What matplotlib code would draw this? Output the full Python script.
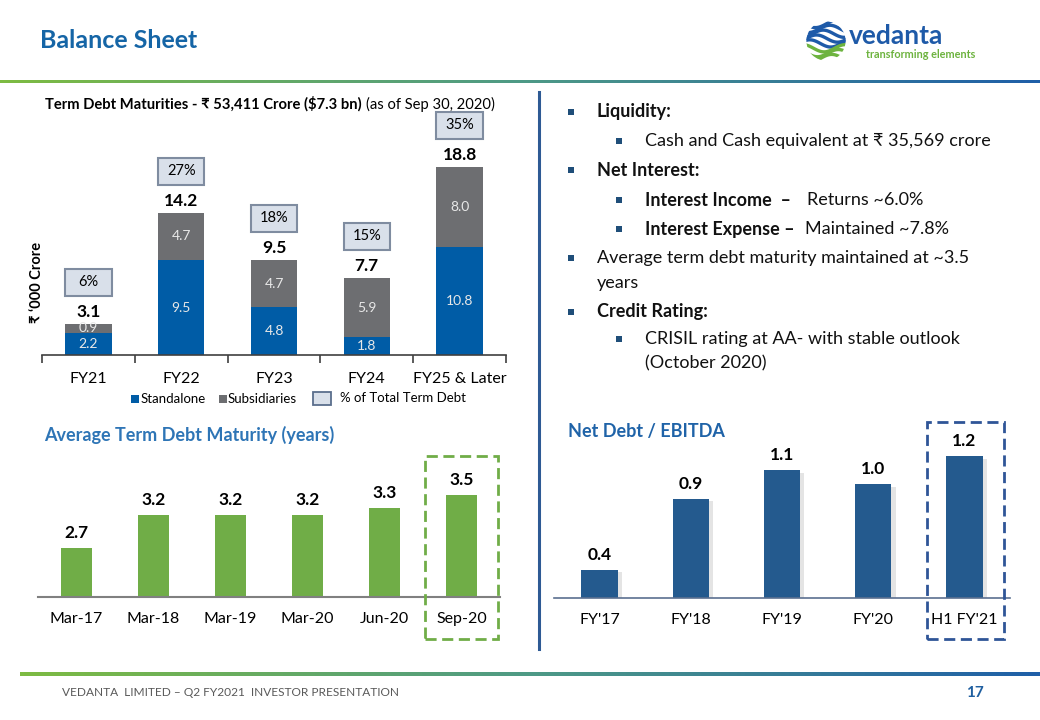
import numpy as np
import matplotlib
matplotlib.use("Agg")
import matplotlib.pyplot as plt
import matplotlib.patheffects as pe
from matplotlib.patches import Rectangle, Circle
from matplotlib.colors import LinearSegmentedColormap
from matplotlib.transforms import blended_transform_factory

plt.rcParams["font.family"] = ["Lato", "DejaVu Sans"]

W, H = 1040, 720

# ---------------------------
# Data
# ---------------------------
maturity_years = ["FY21", "FY22", "FY23", "FY24", "FY25 & Later"]
standalone = [2.2, 9.5, 4.8, 1.8, 10.8]
subsidiaries = [0.9, 4.7, 4.7, 5.9, 8.0]
pct_of_total = ["6%", "27%", "18%", "15%", "35%"]

avg_dates = ["Mar-17", "Mar-18", "Mar-19", "Mar-20", "Jun-20", "Sep-20"]
avg_maturity = [2.7, 3.2, 3.2, 3.2, 3.3, 3.5]

nd_periods = ["FY'17", "FY'18", "FY'19", "FY'20", "H1 FY'21"]
nd_ebitda = [0.4, 0.9, 1.1, 1.0, 1.2]

BLUE = "#005CA6"
GREY = "#6D6E71"
GREEN = "#70AD47"
NAVY = "#245A8E"


def px_box(x0, y0, x1, y1):
    return [x0 / W, 1 - y1 / H, (x1 - x0) / W, (y1 - y0) / H]


def fx(x):
    return x / W


def fy(y):
    return 1 - y / H


fig = plt.figure(figsize=(W / 100, H / 100), dpi=100)
renderer = fig.canvas.get_renderer()


def right_px(t):
    # right edge of a figure text, in pixels
    return t.get_window_extent(renderer).x1


# ---------------------------
# Header / footer
# ---------------------------
fig.text(fx(40), fy(40), "Balance Sheet", color="#1565A6", fontsize=18,
         fontweight="bold", va="center")

grad = LinearSegmentedColormap.from_list("vg", ["#7DBB42", "#4E9A86", "#1F5FA8"])
for box in [px_box(0, 80, W, 83), px_box(20, 672, W, 676)]:
    gax = fig.add_axes(box)
    gax.imshow(np.linspace(0, 1, 256)[None, :], aspect="auto", cmap=grad)
    gax.axis("off")

fig.text(fx(62), fy(693), "VEDANTA  LIMITED \u2013 Q2 FY2021  INVESTOR PRESENTATION",
         color="#595959", fontsize=8.6, va="center",
         family=["Liberation Sans Narrow", "Lato", "DejaVu Sans"])
fig.text(fx(966), fy(693), "17", color="#1F5FA0", fontsize=11, fontweight="bold",
         va="center")

# logo
lax = fig.add_axes(px_box(806, 21, 846, 61))
lax.set_xlim(-1, 1)
lax.set_ylim(-1, 1)
lax.set_aspect("equal")
lax.axis("off")
clip = Circle((0, 0), 0.98, transform=lax.transData)
xs = np.linspace(-1, 1, 100)
for k, yk in enumerate(np.linspace(0.85, -0.85, 8)):
    col = "#1E5AA8" if k < 5 else "#6DB33F"
    ln, = lax.plot(xs, yk + 0.18 * np.sin(3 * xs + k), color=col, lw=2.4)
    ln.set_clip_path(clip)
fig.text(fx(849), fy(36), "vedanta", color="#1E5AA8", fontsize=19,
         fontweight="bold", va="center")
fig.text(fx(866), fy(54), "transforming elements", color="#6DB33F", fontsize=7.8,
         fontweight="bold", va="center")

# divider
fig.add_artist(plt.Line2D([fx(539), fx(539)], [fy(92), fy(649)],
                          color="#2E5A94", lw=2.2))

# ---------------------------
# Term debt maturities
# ---------------------------
t_bold = fig.text(fx(45), fy(104), "Term Debt Maturities - \u20b9 53,411 Crore ($7.3 bn)",
                  fontsize=10.6, fontweight="bold", va="center")
fig.text(fx(right_px(t_bold) + 4), fy(104), "(as of Sep 30, 2020)", fontsize=10.6,
         va="center")

ax1 = fig.add_axes(px_box(42, 105, 506, 355))
x1 = np.arange(len(maturity_years))
ax1.bar(x1, standalone, width=0.5, color=BLUE)
ax1.bar(x1, subsidiaries, width=0.5, bottom=standalone, color=GREY)
ax1.set_xlim(-0.5, 4.5)
ax1.set_ylim(0, 25)
for s in ["left", "right", "top"]:
    ax1.spines[s].set_visible(False)
ax1.spines["bottom"].set_color("#404040")
ax1.spines["bottom"].set_linewidth(1.2)
ax1.set_yticks([])
ax1.set_xticks(x1)
ax1.set_xticklabels(maturity_years, fontsize=11.5)
ax1.tick_params(axis="x", length=0, pad=12)
ax1.set_xticks(np.arange(-0.5, 5, 1), minor=True)
ax1.tick_params(axis="x", which="minor", length=6, width=1.2, color="#404040")

for i, (s, b) in enumerate(zip(standalone, subsidiaries)):
    t = s + b
    ax1.text(i, s / 2, f"{s:.1f}", ha="center", va="center", color="#E8E8E8",
             fontsize=10)
    ax1.text(i, s + b / 2, f"{b:.1f}", ha="center", va="center", color="#E8E8E8",
             fontsize=10)
    ax1.annotate(f"{t:.1f}", (i, t), xytext=(0, 3), textcoords="offset points",
                 ha="center", va="bottom", fontsize=12.5, fontweight="bold")
    yc = t + 4.2
    ax1.add_patch(Rectangle((i - 0.25, yc - 1.35), 0.5, 2.7, facecolor="#D9E0EA",
                            edgecolor="#7F8CA0", lw=1.5, clip_on=False))
    ax1.text(i, yc, pct_of_total[i], ha="center", va="center", fontsize=10.5)

fig.text(fx(37), fy(282), "\u20b9 \u2018000 Crore", rotation=90, ha="center",
         va="center", fontsize=10.5, fontweight="bold")

# legend
fig.add_artist(Rectangle((fx(131), fy(403)), 8 / W, 8 / H, facecolor=BLUE,
                         transform=fig.transFigure))
fig.text(fx(141), fy(399), "Standalone", fontsize=9.5, va="center")
fig.add_artist(Rectangle((fx(219), fy(403)), 8 / W, 8 / H, facecolor=GREY,
                         transform=fig.transFigure))
fig.text(fx(228), fy(399), "Subsidiaries", fontsize=9.5, va="center")
fig.add_artist(Rectangle((fx(313), fy(405)), 18 / W, 13 / H, facecolor="#D9E0EA",
                         edgecolor="#5A6E8C", lw=1.3, transform=fig.transFigure))
fig.text(fx(340), fy(398), "% of Total Term Debt", fontsize=9.5, va="center")

# ---------------------------
# Right-hand commentary
# ---------------------------
lines = [
    (1, 112, [("Liquidity:", "bold", 0)]),
    (2, 141, [("Cash and Cash equivalent at \u20b9 35,569 crore", "normal", 0)]),
    (1, 170, [("Net Interest:", "bold", 0)]),
    (2, 200, [("Interest Income  \u2013", "bold", 0), ("Returns ~6.0%", "normal", 807)]),
    (2, 229, [("Interest Expense \u2013", "bold", 0), ("Maintained ~7.8%", "normal", 805)]),
    (1, 258, [("Average term debt maturity maintained at ~3.5", "normal", 0)]),
    (0, 283, [("years", "normal", 0)]),
    (1, 312, [("Credit Rating:", "bold", 0)]),
    (2, 339, [("CRISIL rating at AA- with stable outlook", "normal", 0)]),
    (0, 363, [("(October 2020)", "normal", 645)]),
]
for lvl, y, parts in lines:
    if lvl == 1:
        bx, tx = 568, 597
    elif lvl == 2:
        bx, tx = 616, 645
    else:
        bx, tx = None, 597
    if bx is not None:
        fig.add_artist(Rectangle((fx(bx), fy(y + 3)), 6 / W, 6 / H,
                                 facecolor="#1F4E79", transform=fig.transFigure))
    for txt, wt, xx in parts:
        fig.text(fx(xx if xx else tx), fy(y), txt, fontsize=13, fontweight=wt,
                 va="center", color="#111111")

# ---------------------------
# Average term debt maturity
# ---------------------------
fig.text(fx(44), fy(435), "Average Term Debt Maturity (years)", color="#2E75B6",
         fontsize=13, fontweight="bold", va="center")
ax2 = fig.add_axes(px_box(38, 460, 500, 597))
x2 = np.arange(len(avg_dates))
ax2.bar(x2, avg_maturity, width=0.4, color=GREEN)
ax2.set_xlim(-0.5, 5.5)
ax2.set_ylim(1.95, 1.95 + 137 / 65.7)
for s in ["left", "right", "top"]:
    ax2.spines[s].set_visible(False)
ax2.spines["bottom"].set_color("#808080")
ax2.spines["bottom"].set_linewidth(1.5)
ax2.set_yticks([])
ax2.set_xticks(x2)
ax2.set_xticklabels(avg_dates, fontsize=11.5)
ax2.tick_params(axis="x", length=0, pad=11)
for i, v in enumerate(avg_maturity):
    ax2.annotate(f"{v:.1f}", (i, v), xytext=(0, 5), textcoords="offset points",
                 ha="center", va="bottom", fontsize=12.5, fontweight="bold")
tr2 = blended_transform_factory(ax2.transData, fig.transFigure)
fig.add_artist(Rectangle((x2[-1] - 0.47, fy(639)), 0.95, (639 - 456) / H,
                         transform=tr2, fill=False, edgecolor=GREEN, lw=2,
                         linestyle=(0, (4, 2))))

# ---------------------------
# Net debt / EBITDA
# ---------------------------
fig.text(fx(568), fy(432), "Net Debt / EBITDA", color="#1F63A8", fontsize=13,
         fontweight="bold", va="center")
ax3 = fig.add_axes(px_box(554, 420, 1010, 598))
x3 = np.arange(len(nd_periods))
bars = ax3.bar(x3, nd_ebitda, width=0.4, color=NAVY)
for b in bars:
    b.set_path_effects([pe.SimplePatchShadow(offset=(3, -2), shadow_rgbFace="#A8A8A8",
                                             alpha=0.3), pe.Normal()])
ax3.set_xlim(-0.5, 4.5)
ax3.set_ylim(0.2, 0.2 + 178 / 142.1)
for s in ["left", "right", "top"]:
    ax3.spines[s].set_visible(False)
ax3.spines["bottom"].set_color("#5B7090")
ax3.spines["bottom"].set_linewidth(1.2)
ax3.set_yticks([])
ax3.set_xticks(x3)
ax3.set_xticklabels(nd_periods, fontsize=11.5)
ax3.tick_params(axis="x", length=0, pad=11)
for i, v in enumerate(nd_ebitda):
    ax3.annotate(f"{v:.1f}", (i, v), xytext=(0, 5), textcoords="offset points",
                 ha="center", va="bottom", fontsize=12.5, fontweight="bold")
tr3 = blended_transform_factory(ax3.transData, fig.transFigure)
fig.add_artist(Rectangle((x3[-1] - 0.41, fy(639)), 0.84, (639 - 422) / H,
                         transform=tr3, fill=False, edgecolor="#2F5597", lw=2,
                         linestyle=(0, (4, 2))))

fig.savefig("out.png", dpi=100)
